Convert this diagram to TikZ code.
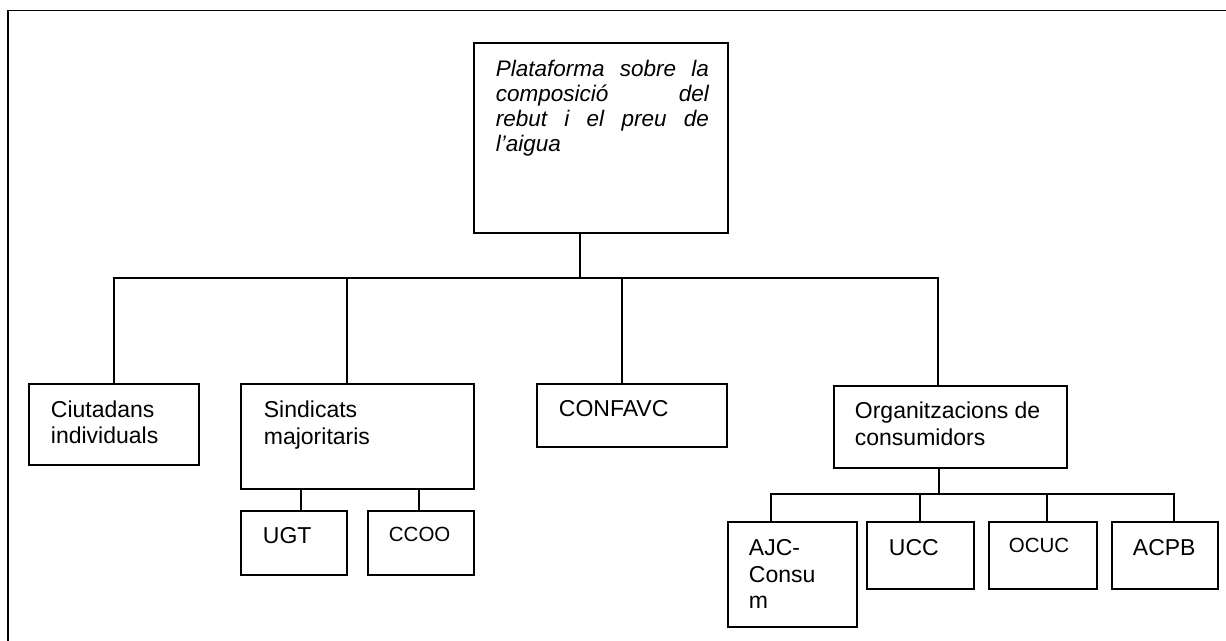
\documentclass[tikz,border=0pt]{standalone}
\usepackage{fontspec}
\setmainfont{Liberation Sans}
\usetikzlibrary{calc}
\begin{document}
\begin{tikzpicture}[x=1pt,y=-1pt,line width=1.8pt,
  box/.style={draw,rectangle,anchor=north west,inner sep=0pt,outer sep=0pt},
  txt/.style={anchor=north west,inner sep=0pt,align=left,font=\fontsize{23}{26.5}\selectfont},
  smalltxt/.style={anchor=north west,inner sep=0pt,align=left,font=\fontsize{20.5}{24}\selectfont},
  ittxt/.style={anchor=north west,inner sep=0pt,align=left,font=\fontsize{22.5}{25}\selectfont\itshape},
  link/.style={draw,line width=1.8pt}]
\useasboundingbox (0,0) rectangle (1226,640);
% frame (clipped by page)
\draw (8,641) -- (8,10.5) -- (1227,10.5);

% boxes
\node[box,minimum width=254pt,minimum height=190pt] (top) at (474,43) {};
\node[box,minimum width=170pt,minimum height=81pt] (ciu) at (29,384) {};
\node[box,minimum width=233pt,minimum height=105pt] (sin) at (241,384) {};
\node[box,minimum width=190pt,minimum height=63pt] (conf) at (537,384) {};
\node[box,minimum width=233pt,minimum height=82pt] (org) at (834,386) {};
\node[box,minimum width=106pt,minimum height=64pt] (ugt) at (241,511) {};
\node[box,minimum width=106pt,minimum height=64pt] (ccoo) at (368,511) {};
\node[box,minimum width=129pt,minimum height=105pt] (ajc) at (728,522) {};
\node[box,minimum width=107pt,minimum height=67pt] (ucc) at (867,522) {};
\node[box,minimum width=108pt,minimum height=67pt] (ocuc) at (989,522) {};
\node[box,minimum width=106pt,minimum height=67pt] (acpb) at (1112,522) {};

% texts
\node[ittxt] (ttop) at (495,59) {\rule{0pt}{17pt}\makebox[213pt][s]{Plataforma sobre la}\\
  \makebox[213pt][s]{composició del}\\
  \makebox[213pt][s]{rebut i el preu de}\\
  l’aigua};
\node[txt] (tciu) at (50,399.5) {\rule{0pt}{17pt}Ciutadans\\individuals};
\node[txt] (tsin) at (263,400) {\rule{0pt}{17pt}Sindicats\\majoritaris};
\node[txt] (tconf) at (558,399) {\rule{0pt}{17pt}CONFAVC};
\node[txt] (torg) at (854,401) {\rule{0pt}{17pt}Organitzacions de\\consumidors};
\node[txt] (tugt) at (262,526) {\rule{0pt}{17pt}UGT};
\node[smalltxt] (tccoo) at (388,526) {\rule{0pt}{15pt}CCOO};
\node[txt] (tajc) at (748,538) {\rule{0pt}{17pt}AJC-\\Consu\\m};
\node[txt] (tucc) at (888,538) {\rule{0pt}{17pt}UCC};
\node[smalltxt] (tocuc) at (1008,537) {\rule{0pt}{15pt}OCUC};
\node[txt] (tacpb) at (1132,538) {\rule{0pt}{17pt}ACPB};

% connectors, first level
\coordinate (hub) at (580,278);
\coordinate (j1) at (347,278);
\coordinate (j2) at (622,278);
\coordinate (j3) at (938,278);
\draw[link] (top.south -| hub) -- (hub);
\draw[link] (ciu.north) |- (j3) -- (j3 |- org.north);
\draw[link] (j1) -- (j1 |- sin.north);
\draw[link] (j2) -- (j2 |- conf.north);

% Sindicats children
\draw[link] ($(sin.south west)+(60,0)$) -- ($(ugt.north west)+(60,0)$);
\draw[link] ($(sin.south west)+(178,0)$) -- ($(ccoo.north west)+(51,0)$);

% Organitzacions children
\coordinate (k) at (939,494);
\coordinate (k1) at (771,494);
\coordinate (k2) at (920,494);
\coordinate (k3) at (1047,494);
\coordinate (k4) at (1174,494);
\draw[link] (org.south -| k) -- (k);
\draw[link] (k1 |- ajc.north) -- (k1) -- (k4) -- (k4 |- acpb.north);
\draw[link] (k2) -- (k2 |- ucc.north);
\draw[link] (k3) -- (k3 |- ocuc.north);
\end{tikzpicture}
\end{document}
